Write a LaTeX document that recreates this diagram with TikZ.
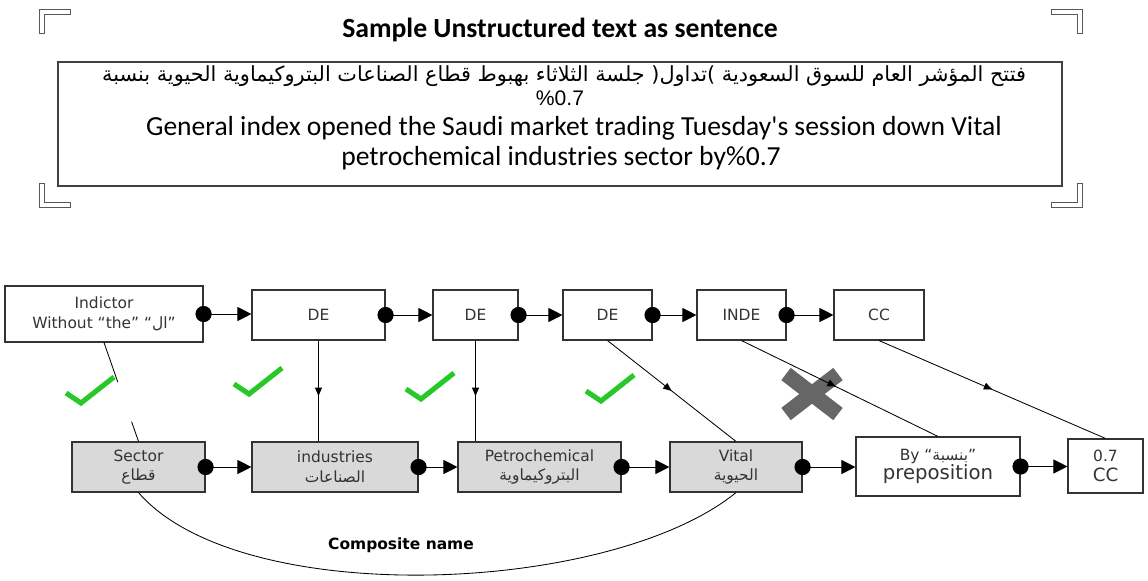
\documentclass[tikz,border=0pt]{standalone}
\usepackage{fontspec}
\setmainfont{DejaVu Sans}
\newfontfamily\arabicfont[Script=Arabic]{DejaVu Sans}
\newfontfamily\calfont{Carlito}
\newfontfamily\arialfont{Liberation Sans}
\TeXXeTstate=1
\usetikzlibrary{arrows.meta,calc,decorations.markings}
\definecolor{tickgreen}{RGB}{40,200,40}
\newcommand{\arab}[1]{{\arabicfont\beginR #1\endR}}

\begin{document}
\begin{tikzpicture}[x=0.025cm, y=-0.025cm,
    tbox/.style={draw=black!80, line width=0.8pt, fill=white, inner sep=0pt, align=center,
      text=black!80, font=\fontsize{11}{14}\selectfont},
    gbox/.style={tbox, fill=black!15},
    wh/.style 2 args={minimum width=#1*0.025cm, minimum height=#2*0.025cm},
    link/.style={{Circle[length=11.5pt]}-{Triangle[length=10pt,width=10pt]}, shorten <=-5.75pt, line width=0.7pt},
    midarrow/.style={postaction={decorate}, decoration={markings,
      mark=at position #1 with {\arrow{Triangle[length=6pt,width=5pt]}}}},
    tick/.pic={\draw[tickgreen, line width=3.6pt] (-24,1) -- (-9,11) -- (24,-15);},
    corner/.pic={\filldraw[fill=white, draw=black!65, line width=0.7pt]
      (0,0) -- (31,0) -- (31,5) -- (5,5) -- (5,24) -- (0,24) -- cycle;}]
  \useasboundingbox (0,0) rectangle (1148,580);
  % sentence part
  \pic at (39,9) {corner};
  \pic[xscale=-1] at (1082,9) {corner};
  \pic[yscale=-1] at (39,207) {corner};
  \pic[scale=-1] at (1082,207) {corner};
  \node[font=\calfont\bfseries\fontsize{19.7}{22}\selectfont] (title) at (560,30) {Sample Unstructured text as sentence};
  \node[draw=black!75, line width=0.9pt, wh={1004}{124}] (sent) at (560,124) {};
  \node[font=\fontsize{14.8}{17}\selectfont] (arline) at (564,76)
    {\arab{فتتح المؤشر العام للسوق السعودية )تداول( جلسة الثلاثاء بهبوط قطاع الصناعات البتروكيماوية الحيوية بنسبة}};
  \node[font=\arialfont\fontsize{15}{17}\selectfont] (pct) at (560,98) {\%0.7};
  \node[font=\calfont\fontsize{19.6}{22}\selectfont] (enone) at (574,128)
    {General index opened the Saudi market trading Tuesday's session down Vital};
  \node[font=\calfont\fontsize{19.6}{22}\selectfont] (entwo) at (561,158) {petrochemical industries sector by\%0.7};

  % top row
  \node[tbox, wh={198}{56}] (ind) at (104,314) {Indictor\\Without “the” “\arab{ال}”};
  \node[tbox, wh={133}{50}] (de1) at (318.5,315) {DE};
  \node[tbox, wh={85}{50}] (de2) at (475.5,315) {DE};
  \node[tbox, wh={89}{50}] (de3) at (607.5,315) {DE};
  \node[tbox, wh={89}{50}] (inde) at (741.5,315) {INDE};
  \node[tbox, wh={90}{50}] (cc) at (879,315) {CC};

  % bottom row
  \node[gbox, wh={133}{50}] (sec) at (138.5,467) {Sector\\\arab{قطاع}};
  \node[gbox, wh={166}{50}] (indus) at (335,467) {industries\\\arab{الصناعات}};
  \node[gbox, wh={163}{50}] (petro) at (539.5,467) {Petrochemical\\\arab{البتروكيماوية}};
  \node[gbox, wh={132}{50}] (vital) at (736,467) {Vital\\\arab{الحيوية}};
  \node[tbox, wh={164}{59}] (by) at (938,466.5) {By “\arab{بنسبة}”\\{\fontsize{14}{16}\selectfont preposition}};
  \node[tbox, wh={75}{54}] (cctwo) at (1105.5,466) {0.7\\{\fontsize{13}{15}\selectfont CC}};

  % marks
  \pic at (90,392) {tick};
  \pic at (258,383) {tick};
  \pic at (430,388) {tick};
  \pic at (610,390) {tick};
  \draw[black!60, line width=11pt] (786,374) -- (838,414) (786,414) -- (838,374);

  % links
  \foreach \a/\b in {ind/de1, de1/de2, de2/de3, de3/inde, inde/cc,
                     sec/indus, indus/petro, petro/vital, vital/by, by/cctwo}
    \draw[link] (\a.east) -- (\a.east -| \b.west);
  \draw[midarrow=0.55, line width=0.6pt] (de1.south) -- (de1.south |- indus.north);
  \draw[midarrow=0.55, line width=0.6pt] (de2.south) -- (de2.south |- petro.north);
  \draw[midarrow=0.5, line width=0.6pt] (de3.south) -- (vital.north);
  \draw[midarrow=0.48, line width=0.6pt] (inde.south) -- (by.north);
  \draw[midarrow=0.5, line width=0.6pt] (cc.south) -- (cctwo.north);
  \draw[line width=0.6pt] (ind.south) -- ($(ind.south)!0.4!(sec.north)$)
    ($(ind.south)!0.8!(sec.north)$) -- (sec.north);
  \draw[line width=0.6pt] (sec.south) .. controls (240,610) and (610,595) .. (vital.south);
  \node[font=\bfseries\fontsize{11}{13}\selectfont] (comp) at (401,545) {Composite name};
\end{tikzpicture}
\end{document}
